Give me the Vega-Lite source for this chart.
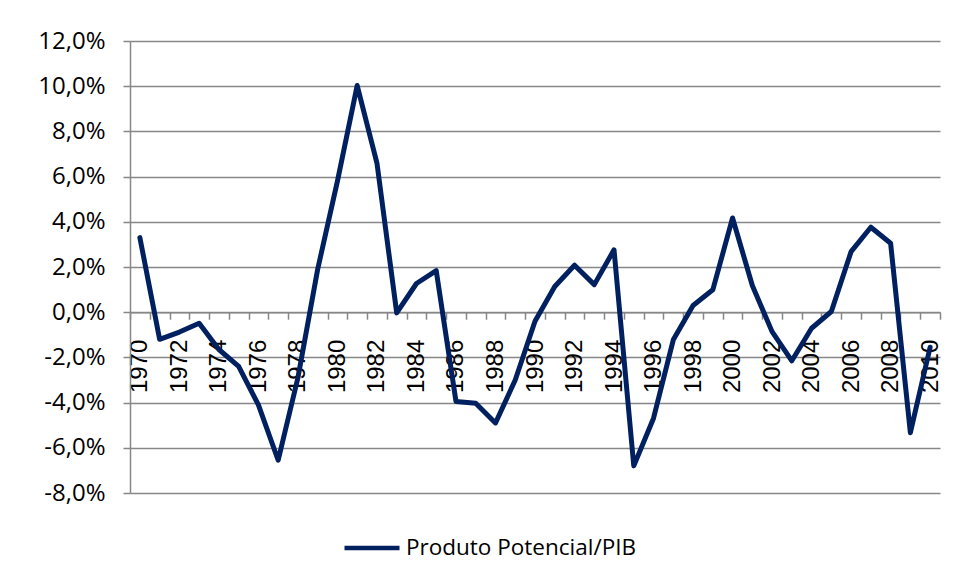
{
  "$schema": "https://vega.github.io/schema/vega-lite/v6.json",
  "width": 810,
  "height": 452,
  "autosize": "none",
  "padding": {"left": 130, "top": 41, "right": 16, "bottom": 88},
  "background": "white",
  "config": {"view": {"stroke": null}, "font": "Open Sans"},
  "data": {
    "values": [
      {"ano": 1970, "valor": 3.3},
      {"ano": 1971, "valor": -1.2},
      {"ano": 1972, "valor": -0.88},
      {"ano": 1973, "valor": -0.49},
      {"ano": 1974, "valor": -1.65},
      {"ano": 1975, "valor": -2.4},
      {"ano": 1976, "valor": -4.1},
      {"ano": 1977, "valor": -6.55},
      {"ano": 1978, "valor": -2.9},
      {"ano": 1979, "valor": 1.9},
      {"ano": 1980, "valor": 5.8},
      {"ano": 1981, "valor": 10.03},
      {"ano": 1982, "valor": 6.6},
      {"ano": 1983, "valor": -0.03},
      {"ano": 1984, "valor": 1.27},
      {"ano": 1985, "valor": 1.84},
      {"ano": 1986, "valor": -3.95},
      {"ano": 1987, "valor": -4.03},
      {"ano": 1988, "valor": -4.9},
      {"ano": 1989, "valor": -3.0},
      {"ano": 1990, "valor": -0.4},
      {"ano": 1991, "valor": 1.14},
      {"ano": 1992, "valor": 2.08},
      {"ano": 1993, "valor": 1.22},
      {"ano": 1994, "valor": 2.76},
      {"ano": 1995, "valor": -6.8},
      {"ano": 1996, "valor": -4.69},
      {"ano": 1997, "valor": -1.22},
      {"ano": 1998, "valor": 0.3},
      {"ano": 1999, "valor": 0.99},
      {"ano": 2000, "valor": 4.17},
      {"ano": 2001, "valor": 1.18},
      {"ano": 2002, "valor": -0.86},
      {"ano": 2003, "valor": -2.15},
      {"ano": 2004, "valor": -0.71},
      {"ano": 2005, "valor": 0.03},
      {"ano": 2006, "valor": 2.68},
      {"ano": 2007, "valor": 3.76},
      {"ano": 2008, "valor": 3.05},
      {"ano": 2009, "valor": -5.33},
      {"ano": 2010, "valor": -1.55}
    ]
  },
  "mark": {"type": "line", "strokeWidth": 5, "strokeJoin": "round", "strokeCap": "round"},
  "encoding": {
    "x": {
      "field": "ano",
      "type": "ordinal",
      "bandPosition": 0.5,
      "scale": {"type": "band", "paddingInner": 0, "paddingOuter": 0},
      "axis": {
        "title": null,
        "labelAngle": -90,
        "labelAlign": "right",
        "labelBaseline": "middle",
        "labelExpr": "datum.value % 2 == 0 ? datum.label : ''",
        "labelOverlap": false,
        "tickBand": "extent",
        "tickSize": 7,
        "tickColor": "#878787",
        "tickWidth": 1.5,
        "domainColor": "#878787",
        "domainWidth": 1.5,
        "offset": -180.8,
        "labelPadding": 20,
        "labelFont": "Liberation Sans",
        "labelFontSize": 24,
        "labelColor": "#000000",
        "grid": false
      }
    },
    "y": {
      "field": "valor",
      "type": "quantitative",
      "scale": {"domain": [-8, 12], "nice": false, "zero": false},
      "axis": {
        "title": null,
        "values": [-8, -6, -4, -2, 0, 2, 4, 6, 8, 10, 12],
        "labelExpr": "replace(replace(format(datum.value, '.1f'), '.', ','), '\u2212', '-') + '%'",
        "labelFont": "Open Sans",
        "labelFontSize": 24,
        "labelColor": "#000000",
        "labelPadding": 18,
        "tickSize": 7,
        "tickColor": "#878787",
        "tickWidth": 1.5,
        "domainColor": "#878787",
        "domainWidth": 1.5,
        "grid": true,
        "gridColor": "#878787",
        "gridWidth": 1.5
      }
    },
    "color": {
      "datum": "Produto Potencial/PIB",
      "type": "nominal",
      "scale": {"range": ["#002060"]},
      "legend": {
        "title": null,
        "orient": "none",
        "legendX": 212,
        "legendY": 477,
        "padding": 0,
        "symbolType": "stroke",
        "symbolSize": 3025,
        "symbolStrokeWidth": 4.5,
        "labelFont": "Open Sans",
        "labelFontSize": 22.5,
        "labelLimit": 0,
        "labelColor": "#000000",
        "labelOffset": 4
      }
    }
  }
}
